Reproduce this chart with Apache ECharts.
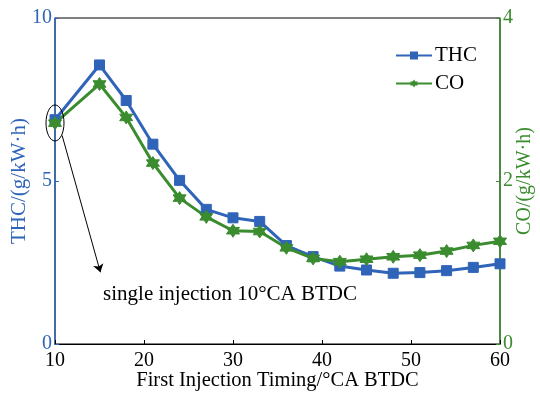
<!DOCTYPE html>
<html>
<head>
<meta charset="utf-8">
<style>
  * { margin: 0; padding: 0; }
  body { background: #ffffff; }
  #chart { width: 540px; height: 394px; }
</style>
</head>
<body>
<div id="chart"></div>
<script src="https://cdn.jsdelivr.net/npm/echarts@6/dist/echarts.min.js"></script>
<script>
// 喷射正时 (°CA BTDC)
var timing = [10, 15, 18, 21, 24, 27, 30, 33, 36, 39, 42, 45, 48, 51, 54, 57, 60];
// THC 排放 g/(kW·h)
var thc = [6.88, 8.56, 7.47, 6.13, 5.02, 4.13, 3.87, 3.76, 3.02, 2.68, 2.39, 2.27, 2.17, 2.19, 2.25, 2.35, 2.46];
// CO 排放 g/(kW·h)
var co = [2.71, 3.19, 2.78, 2.22, 1.79, 1.56, 1.39, 1.38, 1.18, 1.05, 1.01, 1.04, 1.07, 1.09, 1.14, 1.21, 1.26];

var noteText = 'single injection 10\u00B0CA BTDC';

var BLUE = '#2f64b9';
var GREEN = '#3a8c2e';
var FONT = '"Liberation Serif", "Times New Roman", serif';

// MATLAB风格六角星
var hexagram = 'path://M0,-10 L2.89,-5 L8.66,-5 L5.77,0 L8.66,5 L2.89,5 L0,10 L-2.89,5 L-8.66,5 L-5.77,0 L-8.66,-5 L-2.89,-5 Z';

var chart = echarts.init(document.getElementById('chart'));

var option = {
  backgroundColor: '#ffffff',
  animation: false,
  grid: {
    left: 55, right: 40, top: 18, bottom: 50,
    containLabel: false, outerBoundsMode: 'none',
    show: true, borderColor: '#000', borderWidth: 1, backgroundColor: 'transparent'
  },
  legend: {
    orient: 'vertical',
    left: 390, top: 40,
    itemWidth: 36, itemHeight: 10, itemGap: 7,
    textStyle: { fontFamily: FONT, fontSize: 21, color: '#000', padding: [0, 0, 0, -2] },
    data: ['THC', 'CO']
  },
  xAxis: {
    type: 'value',
    min: 10, max: 60, interval: 10,
    name: 'First Injection Timing/\u00B0CA BTDC',
    nameLocation: 'middle', nameGap: 26, nameMoveOverlap: false,
    nameTextStyle: { fontFamily: FONT, fontSize: 20.5, color: '#000' },
    axisLine: { lineStyle: { color: '#000', width: 1 } },
    axisTick: { inside: true, length: 4, lineStyle: { color: '#000' } },
    axisLabel: { fontFamily: FONT, fontSize: 20, color: '#000', margin: 7 },
    splitLine: { show: false }
  },
  yAxis: [
    {
      type: 'value', position: 'left',
      min: 0, max: 10, interval: 5,
      name: 'THC/(g/kW\u00B7h)', nameLocation: 'middle', nameGap: 25, nameRotate: 90,
      nameMoveOverlap: false,
      nameTextStyle: { fontFamily: FONT, fontSize: 21, color: BLUE },
      axisLine: { show: true, lineStyle: { color: BLUE, width: 1.5 } },
      axisTick: { show: true, inside: true, length: 4, lineStyle: { color: BLUE } },
      axisLabel: { fontFamily: FONT, fontSize: 20, color: BLUE, margin: 3 },
      splitLine: { show: false }
    },
    {
      type: 'value', position: 'right',
      min: 0, max: 4, interval: 2,
      name: 'CO/(g/kW\u00B7h)', nameLocation: 'middle', nameGap: 15, nameRotate: 90,
      nameMoveOverlap: false,
      nameTextStyle: { fontFamily: FONT, fontSize: 20, color: GREEN },
      axisLine: { show: true, lineStyle: { color: GREEN, width: 1.5 } },
      axisTick: { show: true, inside: true, length: 4, lineStyle: { color: GREEN } },
      axisLabel: { fontFamily: FONT, fontSize: 20, color: GREEN, margin: 3 },
      splitLine: { show: false }
    }
  ],
  series: [
    {
      name: 'THC', type: 'line', yAxisIndex: 0,
      data: timing.map(function (t, i) { return [t, thc[i]]; }),
      symbol: 'rect', symbolSize: 10,
      lineStyle: { color: BLUE, width: 3 },
      itemStyle: { color: BLUE, borderColor: BLUE },
      markLine: {
        silent: true,
        symbol: ['none', 'arrow'], symbolSize: 8,
        label: { show: false },
        lineStyle: { color: '#000', width: 1, type: 'solid' },
        data: [[{ coord: [10.8, 6.4] }, { coord: [15.1, 2.2] }]]
      }
    },
    {
      name: 'CO', type: 'line', yAxisIndex: 1,
      data: timing.map(function (t, i) { return [t, co[i]]; }),
      symbol: hexagram, symbolSize: 13,
      lineStyle: { color: GREEN, width: 3 },
      itemStyle: { color: GREEN, borderColor: GREEN }
    }
  ]
};

chart.setOption(option);

// 标注：椭圆和文字
var c = chart.convertToPixel({ gridIndex: 0 }, [10, thc[0] - 0.1]);
var t = chart.convertToPixel({ gridIndex: 0 }, [15.4, 1.52]);
chart.setOption({
  graphic: [
    {
      type: 'ellipse',
      shape: { cx: c[0], cy: c[1], rx: 9, ry: 18 },
      style: { fill: 'none', stroke: '#000', lineWidth: 1 },
      z: 10
    },
    {
      type: 'text',
      x: t[0], y: t[1],
      style: {
        text: noteText, fill: '#000',
        font: '21px ' + FONT,
        textVerticalAlign: 'middle'
      },
      z: 10
    }
  ]
});
</script>
</body>
</html>
